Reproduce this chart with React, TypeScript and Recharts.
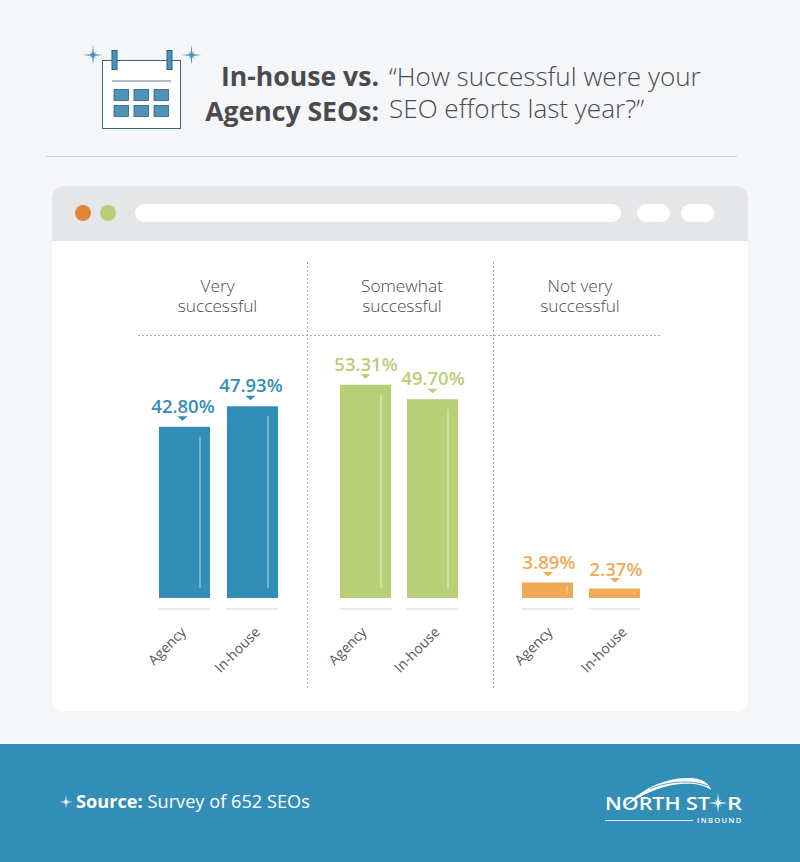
import React from 'react';
import { BarChart, Bar, XAxis, YAxis, LabelList } from 'recharts';

const respondents = ['Agency', 'In-house'];
const verySuccessful = [42.8, 47.93];
const somewhatSuccessful = [53.31, 49.7];
const notVerySuccessful = [3.89, 2.37];

const BLUE = '#338EB7';
const GREEN = '#B8CF77';
const ORANGE = '#F0AA57';
const FONT = '"Open Sans", sans-serif';
const DARK = '#4A4B4D';
const PAD = 30;

const toRows = (values: number[]) =>
  respondents.map((name, i) => ({ name, value: values[i] }));

const panels = [
  { key: 'very', values: verySuccessful, color: BLUE, left: 149.5, width: 136, lineAt: 41, inset: 10, labelDx: -1.5, labelDy: 14, arrowDx: -2, tickDx: [3, 9] },
  { key: 'somewhat', values: somewhatSuccessful, color: GREEN, left: 332, width: 134, lineAt: 41, inset: 10, labelDx: 0.5, labelDy: 14, arrowDx: 0, tickDx: [2, 8] },
  { key: 'not', values: notVerySuccessful, color: ORANGE, left: 514, width: 134, lineAt: 45, inset: 4, labelDx: 1.5, labelDy: 13, arrowDx: 0.5, tickDx: [6, 13] },
];

const Sparkle = ({ x, y, r, color }: { x: number; y: number; r: number; color: string }) => {
  const w = r * 0.1;
  const d = r * 0.55;
  return (
    <g transform={`translate(${x} ${y})`} fill={color}>
      <polygon points={`0,${-r} ${w},${-w} ${r},0 ${w},${w} 0,${r} ${-w},${w} ${-r},0 ${-w},${-w}`} />
      <polygon points={`0,${-r} ${w},${-w} ${r},0 ${w},${w} 0,${r} ${-w},${w} ${-r},0 ${-w},${-w}`} transform={`rotate(45) scale(${d / r})`} />
      <circle r={r * 0.2} />
    </g>
  );
};

const BarShape = (props: any) => {
  const { x, y, width, height, fill, lineAt, inset } = props;
  return (
    <g>
      <rect x={x} y={y} width={width} height={height} fill={fill} />
      <line x1={x + lineAt} x2={x + lineAt} y1={y + inset} y2={y + height - inset} stroke="#fff" strokeOpacity={0.45} strokeWidth={1.5} />
    </g>
  );
};

const ValueLabel = (props: any) => {
  const { x, y, width, value, color, labelDx, labelDy, arrowDx } = props;
  const cx = x + width / 2;
  const ax = cx + arrowDx;
  return (
    <g>
      <text x={cx + labelDx} y={y - labelDy} textAnchor="middle" fontFamily={FONT} fontSize={18.5} fontWeight={600} fill={color}>
        {value.toFixed(2)}%
      </text>
      <polygon points={`${ax - 5},${y - 10.5} ${ax + 5},${y - 10.5} ${ax},${y - 6}`} fill={color} />
    </g>
  );
};

const RespondentTick = (props: any) => {
  const { x, y, payload, tickDx } = props;
  return (
    <g>
      <line x1={x - 26} x2={x + 26} y1={y + 11} y2={y + 11} stroke="#D4D5D7" strokeWidth={1} />
      <text transform={`translate(${x + tickDx[payload.index]} ${y + 35}) rotate(-45)`} textAnchor="end" fontFamily={FONT} fontSize={14} fill="#58595B">
        {payload.value}
      </text>
    </g>
  );
};

const Backdrop = () => (
  <svg width={800} height={862} style={{ position: 'absolute', left: 0, top: 0 }}>
    <rect width={800} height={862} fill="#F5F6F8" />

    {/* Calendar icon */}
    <rect x={103} y={61} width={78} height={68} fill="#B4BAC9" />
    <rect x={102.5} y={60.5} width={78} height={68} fill="#fff" stroke="#3E5F8A" strokeWidth={1} />
    <rect x={112} y={50.5} width={5} height={19} fill="#4F93B7" stroke="#2F5C85" />
    <rect x={167} y={50.5} width={5} height={19} fill="#4F93B7" stroke="#2F5C85" />
    <line x1={112} x2={171} y1={81} y2={81} stroke="#9AA3B8" strokeWidth={1.5} />
    {[114, 134, 154].flatMap((cx) =>
      [89.5, 105.5].map((cy) => (
        <rect key={`${cx}-${cy}`} x={cx} y={cy} width={14.5} height={11} fill="#4F93B7" stroke="#2F5C85" strokeWidth={0.8} />
      )),
    )}
    <Sparkle x={93} y={55} r={10} color="#4F93B7" />
    <Sparkle x={191.5} y={55} r={10} color="#4F93B7" />

    {/* Title */}
    <g fontFamily={FONT} fill={DARK}>
      <text x={379} y={86} textAnchor="end" fontSize={26.6} fontWeight={700}>In-house vs.</text>
      <text x={379} y={121} textAnchor="end" fontSize={26.6} fontWeight={700}>Agency SEOs:</text>
      <text x={389} y={86} fontSize={26.1} fontWeight={300}>“How successful were your</text>
      <text x={389} y={118} fontSize={26.1} fontWeight={300}>SEO efforts last year?”</text>
    </g>
    <line x1={46} x2={737} y1={156.5} y2={156.5} stroke="#CFD1D5" strokeWidth={1} />

    {/* Browser window */}
    <rect x={52} y={186} width={696} height={525} rx={12} fill="#fff" />
    <path d="M52 241 V198 A12 12 0 0 1 64 186 H736 A12 12 0 0 1 748 198 V241 Z" fill="#E5E6E8" />
    <circle cx={83} cy={213} r={8} fill="#E2873A" />
    <circle cx={108} cy={213} r={8} fill="#B8CF77" />
    <rect x={135} y={204} width={486} height={18} rx={9} fill="#fff" />
    <rect x={637} y={204} width={33} height={18} rx={9} fill="#fff" />
    <rect x={681} y={204} width={33} height={18} rx={9} fill="#fff" />

    {/* Panel headings and dotted rules */}
    <g stroke="#A9ABAE" strokeWidth={1} strokeDasharray="2 2">
      <line x1={307.5} x2={307.5} y1={262} y2={689} />
      <line x1={493.5} x2={493.5} y1={262} y2={689} />
      <line x1={138} x2={661} y1={335.5} y2={335.5} />
    </g>
    <g fontFamily={FONT} fontSize={17.3} fontWeight={300} fill={DARK} textAnchor="middle">
      <text x={217.5} y={292}>Very</text>
      <text x={217.5} y={312}>successful</text>
      <text x={402} y={292}>Somewhat</text>
      <text x={402} y={312}>successful</text>
      <text x={580} y={292}>Not very</text>
      <text x={580} y={312}>successful</text>
    </g>

    {/* Footer */}
    <rect x={0} y={744} width={800} height={118} fill={BLUE} />
    <Sparkle x={66} y={802} r={7} color="#fff" />
    <text x={76} y={808} fontFamily={FONT} fontSize={18.2} fill="#fff">
      <tspan fontWeight={700}>Source:</tspan> Survey of 652 SEOs
    </text>

    {/* Logo */}
    <path d="M623 808 C640 790 665 777 690 778 C702 778 709 783 711 790 C703 784 692 783 680 784 C660 786 640 795 623 808 Z" fill="#fff" />
    <path d="M650 789 C665 782 690 779 708 786" fill="none" stroke={BLUE} strokeWidth={0.8} />
    <g fontFamily={FONT} fill="#fff" fontWeight={600}>
      <text x={605} y={810} fontSize={18.5} textLength={105} lengthAdjust="spacingAndGlyphs">NORTH ST</text>
      <text x={727} y={810} fontSize={18.5} textLength={15} lengthAdjust="spacingAndGlyphs">R</text>
      <text x={697} y={823} fontSize={7.5} letterSpacing={1.4}>INBOUND</text>
    </g>
    <Sparkle x={718} y={803} r={10} color="#fff" />
    <line x1={605} x2={693} y1={820.5} y2={820.5} stroke="#fff" strokeWidth={1} strokeOpacity={0.8} />
  </svg>
);

export default function App() {
  return (
    <div style={{ position: 'absolute', left: 0, top: 0, width: 800, height: 862, overflow: 'hidden' }}>
      <Backdrop />
      {panels.map((p) => (
        <div key={p.key} style={{ position: 'absolute', left: p.left - PAD, top: 358 - PAD }}>
          <BarChart
            width={p.width + PAD * 2}
            height={340 + PAD}
            data={toRows(p.values)}
            margin={{ top: PAD, right: PAD, bottom: 0, left: PAD }}
          >
            <XAxis
              dataKey="name"
              height={100}
              axisLine={false}
              tickLine={false}
              tickSize={0}
              tickMargin={0}
              interval={0}
              tick={<RespondentTick tickDx={p.tickDx} />}
            />
            <YAxis hide domain={[0, 60]} />
            <Bar
              dataKey="value"
              barSize={51}
              fill={p.color}
              isAnimationActive={false}
              shape={(s: any) => <BarShape {...s} lineAt={p.lineAt} inset={p.inset} />}
            >
              <LabelList
                dataKey="value"
                content={(l: any) => <ValueLabel {...l} color={p.color} labelDx={p.labelDx} labelDy={p.labelDy} arrowDx={p.arrowDx} />}
              />
            </Bar>
          </BarChart>
        </div>
      ))}
    </div>
  );
}
